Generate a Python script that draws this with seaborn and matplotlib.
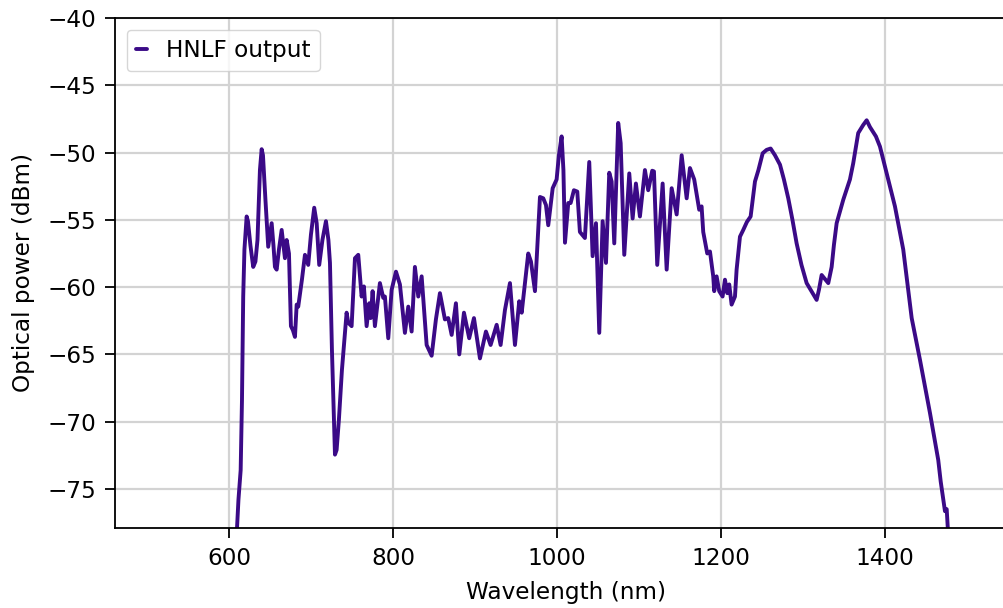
import numpy as np
import pandas as pd
import matplotlib
matplotlib.use('Agg')
import matplotlib.pyplot as plt
import seaborn as sns

# wavelength (nm) and optical power (dBm)
wavelength = [
    609.1, 611.6, 614.3, 615.9, 617.4, 618.9, 621.6, 623.2, 626.2, 629.6,
    632.3, 634.8, 637.8, 639.9, 641.5, 644.5, 647.9, 652.1, 654.3, 656.1,
    658.2, 661.0, 664.3, 668.3, 670.4, 673.2, 675.6, 678.0, 680.5, 682.6,
    684.5, 689.0, 692.7, 696.7, 700.0, 704.0, 707.0, 710.1, 714.0, 718.3,
    721.3, 723.2, 725.6, 729.3, 731.3, 734.1, 737.8, 743.5, 745.5, 749.6,
    753.7, 757.7, 761.8, 764.6, 767.9, 771.1, 772.8, 775.2, 778.0, 784.1,
    788.2, 790.2, 794.3, 798.4, 803.7, 808.5, 814.6, 818.7, 822.8, 826.8,
    830.9, 835.0, 841.1, 847.2, 852.4, 857.3, 863.4, 867.4, 871.6, 876.8,
    880.9, 886.6, 893.0, 898.8, 906.1, 913.4, 919.1, 926.5, 931.3, 936.6,
    942.7, 948.8, 954.0, 957.0, 965.0, 968.3, 973.2, 979.3, 983.3, 986.6,
    989.4, 994.8, 999.6, 1002.4, 1005.7, 1007.9, 1009.8, 1013.8, 1016.7, 1020.7,
    1024.8, 1028.0, 1034.1, 1039.4, 1043.5, 1047.6, 1051.6, 1055.7, 1059.8, 1063.8,
    1066.7, 1069.9, 1074.7, 1077.7, 1082.1, 1088.2, 1092.3, 1096.3, 1101.2, 1107.3,
    1111.3, 1116.2, 1118.3, 1122.3, 1128.9, 1133.8, 1139.9, 1146.0, 1152.1, 1158.2,
    1162.2, 1167.4, 1173.5, 1176.4, 1178.4, 1183.3, 1186.6, 1190.6, 1191.8, 1194.7,
    1197.9, 1202.0, 1204.9, 1207.7, 1210.1, 1213.0, 1217.1, 1219.1, 1223.2, 1227.2,
    1231.7, 1236.2, 1241.5, 1245.7, 1250.9, 1255.7, 1260.6, 1265.9, 1272.0, 1276.8,
    1282.1, 1287.2, 1292.3, 1298.2, 1304.5, 1310.4, 1316.7, 1319.5, 1322.8, 1330.9,
    1335.0, 1337.8, 1341.1, 1349.2, 1357.3, 1361.3, 1367.4, 1373.5, 1377.7, 1381.7,
    1389.0, 1393.9, 1402.1, 1412.2, 1422.3, 1432.6, 1442.7, 1454.9, 1465.0, 1468.0,
    1473.2, 1475.3, 1477.5,
]
power = [
    -78.8, -75.8, -73.6, -68.4, -60.7, -57.2, -54.75, -55.1, -56.9, -58.5,
    -58.1, -56.5, -51.3, -49.75, -50.2, -53.5, -57.0, -55.25, -56.9, -58.5,
    -58.7, -57.2, -55.75, -57.85, -56.5, -57.5, -62.9, -63.2, -63.7, -61.3,
    -61.45, -59.45, -57.6, -58.35, -56.1, -54.1, -55.25, -58.35, -56.5, -55.1,
    -56.5, -58.2, -64.65, -72.45, -72.1, -69.85, -66.15, -61.9, -62.65, -62.9,
    -57.85, -57.6, -60.7, -59.95, -62.9, -61.2, -62.3, -60.3, -62.9, -59.7,
    -60.8, -60.7, -63.8, -60.2, -58.85, -59.8, -63.4, -61.45, -63.3, -58.5,
    -60.7, -59.2, -64.3, -65.1, -62.4, -60.45, -62.4, -62.3, -63.55, -61.2,
    -65.0, -61.9, -63.8, -62.3, -65.3, -63.3, -64.3, -62.8, -64.3, -61.7,
    -59.7, -64.3, -61.05, -61.9, -57.5, -58.1, -60.3, -53.3, -53.4, -53.9,
    -55.4, -52.65, -52.0, -50.2, -48.8, -51.3, -56.7, -53.75, -53.75, -52.8,
    -52.9, -55.9, -56.35, -50.7, -57.7, -55.25, -63.4, -55.1, -58.2, -51.5,
    -52.15, -56.75, -47.8, -49.3, -57.6, -51.55, -54.9, -52.3, -54.75, -51.3,
    -52.8, -51.35, -51.4, -58.35, -52.3, -58.7, -52.65, -54.6, -50.2, -53.4,
    -51.15, -52.0, -54.25, -54.0, -55.9, -57.5, -57.35, -59.2, -60.3, -59.2,
    -60.3, -60.7, -59.45, -60.45, -59.8, -61.3, -60.7, -58.7, -56.25, -55.75,
    -55.15, -54.75, -52.15, -51.3, -50.05, -49.8, -49.7, -50.2, -50.9, -52.0,
    -53.4, -55.0, -56.75, -58.35, -59.7, -60.3, -60.95, -60.2, -59.1, -59.7,
    -58.5, -56.85, -55.25, -53.5, -52.0, -50.8, -48.55, -47.95, -47.6, -48.1,
    -48.8, -49.55, -51.55, -54.0, -57.2, -62.3, -65.4, -69.35, -72.85, -74.45,
    -76.65, -76.5, -78.8,
]

df = pd.DataFrame({'Wavelength (nm)': wavelength, 'Optical power (dBm)': power})

sns.set_style('ticks')
plt.rcParams['font.family'] = ['DejaVu Sans']
plt.rcParams['text.color'] = 'black'
plt.rcParams['axes.labelcolor'] = 'black'
plt.rcParams['xtick.color'] = 'black'
plt.rcParams['ytick.color'] = 'black'

fs = 16.7

fig = plt.figure(figsize=(10.04, 6.08), dpi=100)
ax = fig.add_axes([0.1145, 0.1316, 0.8976, 0.8388])

sns.lineplot(data=df, x='Wavelength (nm)', y='Optical power (dBm)',
             color='#3b0a87', linewidth=2.8, estimator=None,
             label='HNLF output', ax=ax)

ax.set_xlim(461, 1560)
ax.set_ylim(-77.9, -40)
ax.set_xticks([600, 800, 1000, 1200, 1400])
ax.set_yticks(np.arange(-75, -39, 5))
ax.grid(True, color='#d3d3d3', linewidth=1.6)
ax.set_axisbelow(True)
for s in ax.spines.values():
    s.set_color('black')
    s.set_linewidth(1.3)
ax.tick_params(axis='both', labelsize=fs, length=7, width=1.3, pad=6.5,
               color='black', labelcolor='black')
ax.set_xlabel('Wavelength (nm)', fontsize=fs, color='black', labelpad=8)
ax.set_ylabel('Optical power (dBm)', fontsize=fs, color='black', labelpad=9)

ax.legend(loc='upper left', handlelength=0.5, fontsize=fs, frameon=True,
          fancybox=True, framealpha=0.8, edgecolor='#cccccc')

fig.savefig('out.png', dpi=100)
